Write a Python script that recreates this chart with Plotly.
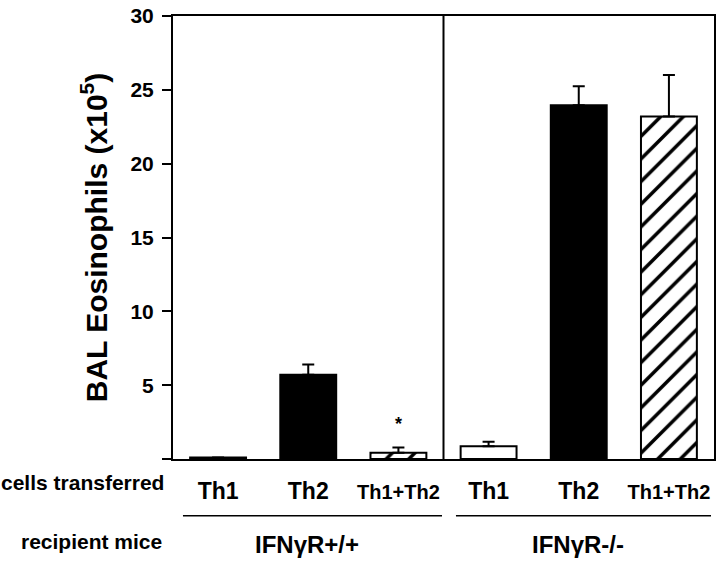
import plotly.graph_objects as go

# ---- data ----
cells = ["Th1", "Th2", "Th1+Th2"]
recipients = ["IFNγR+/+", "IFNγR-/-"]
eos_wt = [0.1, 5.7, 0.42]     # BAL eosinophils (x10^5), IFNγR+/+ recipients
err_wt = [0.0, 0.7, 0.36]
eos_ko = [0.87, 23.95, 23.2]  # IFNγR-/- recipients
err_ko = [0.3, 1.3, 2.8]
y_ticks = [0, 5, 10, 15, 20, 25, 30]
y_ticklabels = ["", "5", "10", "15", "20", "25", "30"]
sig_marks = ["", "", "*"]     # significance marker for IFNγR+/+ group

FONT = "Liberation Sans, Arial, Helvetica, sans-serif"

cats = [f"{r}|{c}" for r in recipients for c in cells]
styles = {
    "Th1": dict(color="white", line=dict(color="black", width=2)),
    "Th2": dict(color="black", line=dict(color="black", width=2)),
    "Th1+Th2": dict(color="white", line=dict(color="black", width=2),
                    pattern=dict(shape="/", fgcolor="black", bgcolor="white",
                                 fgopacity=1, fillmode="replace",
                                 size=16, solidity=0.22)),
}

fig = go.Figure()
for i, c in enumerate(cells):
    fig.add_trace(go.Bar(
        x=[f"{recipients[0]}|{c}", f"{recipients[1]}|{c}"],
        y=[eos_wt[i], eos_ko[i]],
        error_y=dict(type="data", array=[err_wt[i], err_ko[i]],
                     arrayminus=[0, 0], symmetric=False,
                     color="black", thickness=2, width=6),
        marker=styles[c], width=0.62, showlegend=False, name=c,
    ))

def ticklabel(c):
    if c == "Th1+Th2":
        return f"<span style='font-size:20px'>{c}</span>"
    return c

fig.update_layout(
    width=720, height=562,
    margin=dict(l=173, r=4, t=14, b=103),
    paper_bgcolor="white", plot_bgcolor="white",
    barmode="overlay",
    font=dict(family=FONT, color="black", weight="bold"),
    xaxis=dict(
        type="category", categoryorder="array", categoryarray=cats,
        range=[-0.5, 5.5],
        tickvals=cats, ticktext=[ticklabel(k.split("|")[1]) for k in cats],
        tickfont=dict(size=23, family=FONT, weight="bold"),
        ticks="", ticklabelstandoff=10,
        showline=True, linecolor="black", linewidth=2, mirror=True,
        showgrid=False, zeroline=False,
    ),
    yaxis=dict(
        range=[0, 30], tickvals=y_ticks, ticktext=y_ticklabels,
        tickfont=dict(size=21, family=FONT, weight="bold"),
        ticks="outside", ticklen=9, tickwidth=2, tickcolor="black",
        ticklabelstandoff=4,
        showline=True, linecolor="black", linewidth=2, mirror=True,
        showgrid=False, zeroline=False,
        title=dict(text="BAL Eosinophils (x10<sup>5</sup>)",
                   font=dict(size=30, family=FONT, weight="bold"),
                   standoff=14),
    ),
)

# divider between recipient groups
fig.add_shape(type="line", xref="x", yref="paper", x0=2.5, x1=2.5, y0=0, y1=1,
              line=dict(color="black", width=2))

def px2x(px):
    return (px - 173) / 543

def py2y(py):
    return (459 - py) / 445

# significance star
for i, s in enumerate(sig_marks):
    if s:
        fig.add_annotation(x=f"{recipients[0]}|{cells[i]}", y=eos_wt[i] + err_wt[i] + 1.6,
                           xref="x", yref="y", text=s, showarrow=False,
                           font=dict(size=18, family=FONT, weight="bold"))

# row labels
fig.add_annotation(x=px2x(166), y=py2y(483), xref="paper", yref="paper",
                   text="cells transferred", showarrow=False, xanchor="right",
                   yanchor="middle", font=dict(size=21, family=FONT, weight="bold"))
fig.add_annotation(x=px2x(164), y=py2y(542), xref="paper", yref="paper",
                   text="recipient mice", showarrow=False, xanchor="right",
                   yanchor="middle", font=dict(size=21, family=FONT, weight="bold"))

# group underlines and labels
group_spans = [(183, 443), (457, 713)]
group_centers = [307, 579]
for r, (a, b), cx in zip(recipients, group_spans, group_centers):
    fig.add_shape(type="line", xref="paper", yref="paper",
                  x0=px2x(a), x1=px2x(b), y0=py2y(516), y1=py2y(516),
                  line=dict(color="black", width=1.5))
    fig.add_annotation(x=px2x(cx), y=py2y(545), xref="paper", yref="paper",
                       text=r, showarrow=False, xanchor="center", yanchor="middle",
                       font=dict(size=24, family=FONT, weight="bold"))

fig.write_html("out.html", config={"displayModeBar": False},
               post_script="document.body.style.margin='0';document.body.style.overflow='hidden';")
